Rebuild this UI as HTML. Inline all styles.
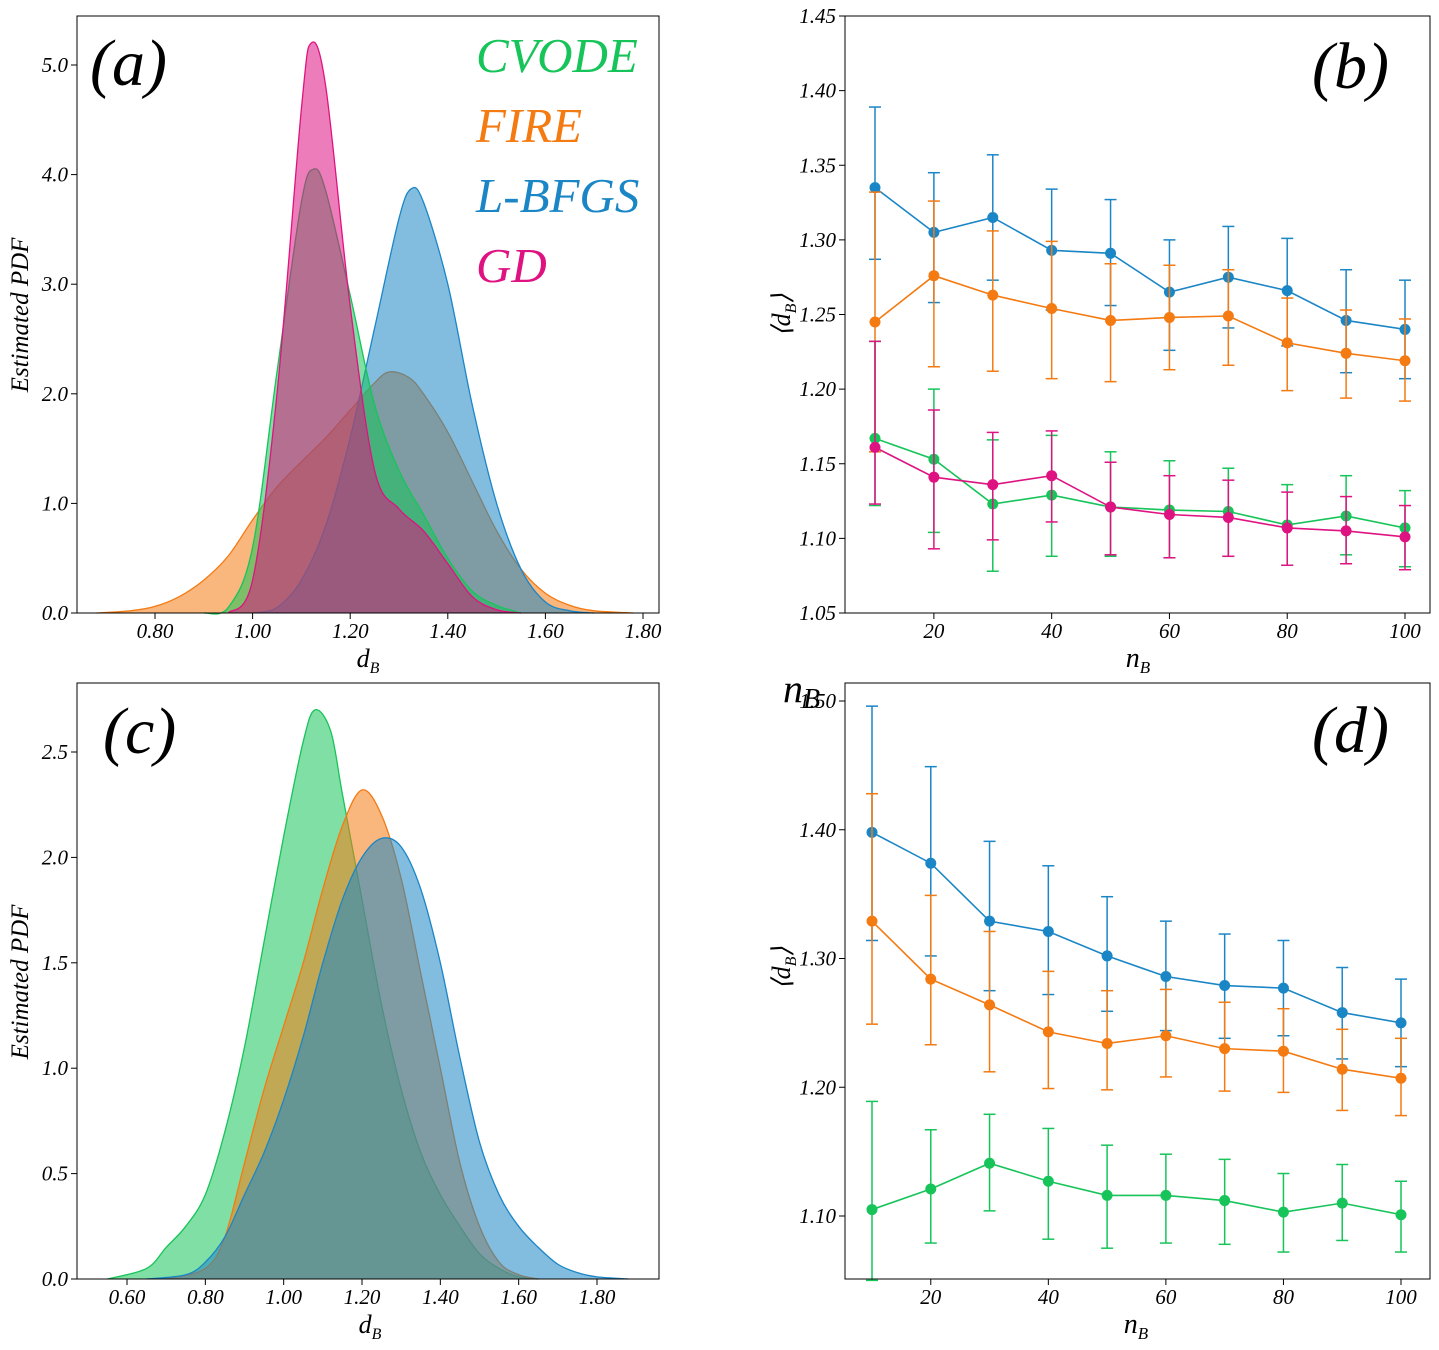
<!DOCTYPE html>
<html><head><meta charset="utf-8">
<style>
body{margin:0;background:#fff;}
svg{display:block;font-family:"Liberation Serif",serif;}
.tk{font-style:italic;}
</style></head>
<body>
<svg id="fig" width="1439" height="1350" viewBox="0 0 1439 1350" xmlns="http://www.w3.org/2000/svg"></svg>
<script>
// ---------- DATA ----------
const aCvodeX=[0.90,0.95,1.00,1.05,1.10,1.125,1.15,1.20,1.25,1.30,1.35,1.40,1.45,1.50,1.55];
const aCvodeY=[0,0.05,0.6,2.2,3.75,4.05,3.85,2.9,1.9,1.3,0.9,0.5,0.2,0.07,0];
const aFireX=[0.68,0.75,0.80,0.85,0.90,0.95,1.00,1.05,1.10,1.15,1.20,1.25,1.28,1.32,1.35,1.40,1.45,1.50,1.55,1.60,1.65,1.70,1.78];
const aFireY=[0,0.02,0.06,0.15,0.3,0.52,0.85,1.15,1.38,1.6,1.85,2.1,2.2,2.15,2.0,1.65,1.2,0.75,0.4,0.18,0.07,0.02,0];
const aLbfgsX=[1.00,1.05,1.10,1.15,1.20,1.25,1.30,1.325,1.35,1.40,1.45,1.50,1.55,1.60,1.65,1.70];
const aLbfgsY=[0,0.05,0.3,0.8,1.6,2.6,3.6,3.87,3.75,3.0,1.9,1.0,0.4,0.1,0.02,0];
const aGdX=[0.95,1.00,1.05,1.10,1.12,1.15,1.20,1.25,1.30,1.35,1.40,1.45,1.50,1.55];
const aGdY=[0,0.3,2.0,4.6,5.2,4.8,2.8,1.3,0.95,0.75,0.45,0.15,0.03,0];

const cCvodeX=[0.55,0.65,0.70,0.75,0.80,0.85,0.90,0.95,1.00,1.05,1.08,1.12,1.15,1.20,1.25,1.30,1.35,1.40,1.45,1.50,1.55,1.60,1.65];
const cCvodeY=[0,0.05,0.15,0.25,0.4,0.7,1.1,1.6,2.1,2.55,2.7,2.6,2.3,1.8,1.3,0.9,0.6,0.4,0.25,0.12,0.05,0.01,0];
const cFireX=[0.70,0.80,0.85,0.90,0.95,1.00,1.05,1.10,1.15,1.20,1.25,1.30,1.35,1.40,1.45,1.50,1.55,1.60,1.65];
const cFireY=[0,0.05,0.2,0.55,0.9,1.2,1.5,1.85,2.15,2.32,2.2,1.9,1.45,1.0,0.55,0.25,0.08,0.02,0];
const cLbfgsX=[0.65,0.75,0.80,0.85,0.90,0.95,1.00,1.05,1.10,1.15,1.20,1.25,1.30,1.35,1.40,1.45,1.50,1.55,1.60,1.65,1.70,1.75,1.80,1.88];
const cLbfgsY=[0,0.02,0.08,0.2,0.4,0.6,0.85,1.15,1.5,1.8,2.0,2.09,2.05,1.85,1.5,1.05,0.65,0.4,0.25,0.15,0.07,0.03,0.01,0];

const nB=[10,20,30,40,50,60,70,80,90,100];
const bBlue=[1.335,1.305,1.315,1.293,1.291,1.265,1.275,1.266,1.246,1.240];
const bBlueLo=[1.287,1.258,1.273,1.253,1.256,1.226,1.241,1.229,1.211,1.207];
const bBlueHi=[1.389,1.345,1.357,1.334,1.327,1.300,1.309,1.301,1.280,1.273];
const bOrange=[1.245,1.276,1.263,1.254,1.246,1.248,1.249,1.231,1.224,1.219];
const bOrangeLo=[1.158,1.215,1.212,1.207,1.205,1.213,1.216,1.199,1.194,1.192];
const bOrangeHi=[1.332,1.326,1.306,1.299,1.284,1.283,1.280,1.261,1.253,1.247];
const bGreen=[1.167,1.153,1.123,1.129,1.121,1.119,1.118,1.109,1.115,1.107];
const bGreenLo=[1.122,1.104,1.078,1.088,1.088,1.087,1.088,1.082,1.089,1.081];
const bGreenHi=[1.232,1.200,1.166,1.169,1.158,1.152,1.147,1.136,1.142,1.132];
const bPink=[1.161,1.141,1.136,1.142,1.121,1.116,1.114,1.107,1.105,1.101];
const bPinkLo=[1.123,1.093,1.099,1.111,1.089,1.087,1.088,1.082,1.083,1.079];
const bPinkHi=[1.232,1.186,1.171,1.172,1.151,1.142,1.139,1.131,1.128,1.122];

const dBlue=[1.398,1.374,1.329,1.321,1.302,1.286,1.279,1.277,1.258,1.250];
const dBlueLo=[1.314,1.302,1.275,1.272,1.259,1.244,1.238,1.240,1.222,1.216];
const dBlueHi=[1.496,1.449,1.391,1.372,1.348,1.329,1.319,1.314,1.293,1.284];
const dOrange=[1.329,1.284,1.264,1.243,1.234,1.240,1.230,1.228,1.214,1.207];
const dOrangeLo=[1.249,1.233,1.212,1.199,1.198,1.208,1.197,1.196,1.182,1.178];
const dOrangeHi=[1.428,1.349,1.321,1.290,1.275,1.276,1.266,1.261,1.245,1.238];
const dGreen=[1.105,1.121,1.141,1.127,1.116,1.116,1.112,1.103,1.110,1.101];
const dGreenLo=[1.050,1.079,1.104,1.082,1.075,1.079,1.078,1.072,1.081,1.072];
const dGreenHi=[1.189,1.167,1.179,1.168,1.155,1.148,1.144,1.133,1.140,1.127];

const tickA_X=[0.80,1.00,1.20,1.40,1.60,1.80];
const tickA_Y=[0.0,1.0,2.0,3.0,4.0,5.0];
const tickC_X=[0.60,0.80,1.00,1.20,1.40,1.60,1.80];
const tickC_Y=[0.0,0.5,1.0,1.5,2.0,2.5];
const tickB_Y=[1.05,1.10,1.15,1.20,1.25,1.30,1.35,1.40,1.45];
const tickD_Y=[1.10,1.20,1.30,1.40,1.50];
const tickN=[20,40,60,80,100];

const GREEN="#17c45a",ORANGE="#f47a12",BLUE="#1b86c6",PINK="#de1381";
// ---------- HELPERS ----------
const svg=document.getElementById('fig');
const NS="http://www.w3.org/2000/svg";
function mk(tag,attrs,parent){const e=document.createElementNS(NS,tag);for(const k in attrs)e.setAttribute(k,attrs[k]);(parent||svg).appendChild(e);return e;}
function lin(d0,d1,r0,r1){return v=>r0+(v-d0)/(d1-d0)*(r1-r0);}
function smooth(pts){let d="M"+pts[0][0]+","+pts[0][1];for(let i=0;i<pts.length-1;i++){const p0=pts[i-1]||pts[i],p1=pts[i],p2=pts[i+1],p3=pts[i+2]||p2;
const c1=[p1[0]+(p2[0]-p0[0])/6,p1[1]+(p2[1]-p0[1])/6],c2=[p2[0]-(p3[0]-p1[0])/6,p2[1]-(p3[1]-p1[1])/6];
d+=" C"+c1[0]+","+c1[1]+" "+c2[0]+","+c2[1]+" "+p2[0]+","+p2[1];}return d;}
function txt(x,y,s,cls,extra){const a=Object.assign({x:x,y:y,class:cls||'tk','font-size':21,fill:'#000'},extra||{});const t=mk('text',a);t.textContent=s;return t;}

function frame(name,x0,y0,x1,y1){const r=mk('rect',{x:x0,y:y0,width:x1-x0,height:y1-y0,fill:'none',stroke:'#000','stroke-width':1});}
function xticks(name,ticks,sx,y,dec){const g=mk('g',{});
ticks.forEach(v=>{mk('line',{x1:sx(v),x2:sx(v),y1:y,y2:y+6,stroke:'#000'},g);const t=txt(sx(v),y+25,v.toFixed(dec),'tk',{'text-anchor':'middle'});g.appendChild(t);});}
function yticks(name,ticks,sy,x,dec){const g=mk('g',{});
ticks.forEach(v=>{mk('line',{x1:x-6,x2:x,y1:sy(v),y2:sy(v),stroke:'#000'},g);const t=txt(x-9,sy(v)+7,v.toFixed(dec),'tk',{'text-anchor':'end'});g.appendChild(t);});}
function kde(name,xs,ys,sx,sy,col){const pts=xs.map((v,i)=>[sx(v),sy(ys[i])]);const d=smooth(pts);
const f=mk('path',{d:d+" L"+pts[pts.length-1][0]+","+sy(0)+" L"+pts[0][0]+","+sy(0)+" Z",fill:col,'fill-opacity':0.55,stroke:'none'});

const l=mk('path',{d:d,fill:'none',stroke:col,'stroke-width':1.3});}
function series(name,xs,m,lo,hi,sx,sy,col){const g=mk('g',{});
mk('path',{d:"M"+xs.map((v,i)=>sx(v)+","+sy(m[i])).join(" L"),fill:'none',stroke:col,'stroke-width':1.6},g);
xs.forEach((v,i)=>{const x=sx(v);mk('line',{x1:x,x2:x,y1:sy(lo[i]),y2:sy(hi[i]),stroke:col,'stroke-width':1.5},g);
mk('line',{x1:x-6,x2:x+6,y1:sy(lo[i]),y2:sy(lo[i]),stroke:col,'stroke-width':1.5},g);
mk('line',{x1:x-6,x2:x+6,y1:sy(hi[i]),y2:sy(hi[i]),stroke:col,'stroke-width':1.5},g);
const c=mk('circle',{cx:x,cy:sy(m[i]),r:5.5,fill:col},g);});}

// ---------- PANEL A ----------
{const sx=lin(0.8,1.8,155,643),sy=lin(0,5,613,65);
kde('a-fire',aFireX,aFireY,sx,sy,ORANGE);kde('a-lbfgs',aLbfgsX,aLbfgsY,sx,sy,BLUE);kde('a-cvode',aCvodeX,aCvodeY,sx,sy,GREEN);kde('a-gd',aGdX,aGdY,sx,sy,PINK);
frame('a',77,16,659,613);xticks('a',tickA_X,sx,613,2);yticks('a',tickA_Y,sy,77,1);
let t=txt(368,667,'','tk',{'font-size':26,'text-anchor':'middle'});t.innerHTML='d<tspan font-size="16" dy="6">B</tspan>';
t=txt(0,0,'Estimated PDF','tk',{'font-size':25,'text-anchor':'middle',transform:'translate(28,315) rotate(-90)'});
t=txt(90,85,'(a)','tk',{'font-size':66});
[['CVODE',GREEN,72],['FIRE',ORANGE,142],['L-BFGS',BLUE,212],['GD',PINK,282]].forEach(l=>{const e=txt(476,l[2],l[0],'tk',{'font-size':49,fill:l[1]});});}
// ---------- PANEL B ----------
{const sx=lin(10,100,875,1405),sy=lin(1.05,1.45,613,16);
series('b-blue',nB,bBlue,bBlueLo,bBlueHi,sx,sy,BLUE);series('b-orange',nB,bOrange,bOrangeLo,bOrangeHi,sx,sy,ORANGE);
series('b-green',nB,bGreen,bGreenLo,bGreenHi,sx,sy,GREEN);series('b-pink',nB,bPink,bPinkLo,bPinkHi,sx,sy,PINK);
frame('b',845,16,1430,613);xticks('b',tickN,sx,613,0);yticks('b',tickB_Y,sy,845,2);
let t=txt(1138,667,'','tk',{'font-size':28,'text-anchor':'middle'});t.innerHTML='n<tspan font-size="17" dy="6">B</tspan>';
t=txt(0,0,'','tk',{'font-size':26,'text-anchor':'middle',transform:'translate(790,315) rotate(-90)'});t.innerHTML='⟨d<tspan font-size="16" dy="6">B</tspan><tspan dy="-6">⟩</tspan>';
t=txt(1312,88,'(b)','tk',{'font-size':66});}
// ---------- PANEL C ----------
{const sx=lin(0.6,1.8,127,597),sy=lin(0,2.5,1279,752);
kde('c-cvode',cCvodeX,cCvodeY,sx,sy,GREEN);kde('c-fire',cFireX,cFireY,sx,sy,ORANGE);kde('c-lbfgs',cLbfgsX,cLbfgsY,sx,sy,BLUE);
frame('c',77,683,659,1279);xticks('c',tickC_X,sx,1279,2);yticks('c',tickC_Y,sy,77,1);
let t=txt(370,1333,'','tk',{'font-size':26,'text-anchor':'middle'});t.innerHTML='d<tspan font-size="16" dy="6">B</tspan>';
t=txt(0,0,'Estimated PDF','tk',{'font-size':25,'text-anchor':'middle',transform:'translate(28,982) rotate(-90)'});
t=txt(103,753,'(c)','tk',{'font-size':66});}
// ---------- PANEL D ----------
{const sx=lin(10,100,872,1401),sy=lin(1.1,1.5,1216,701);
series('d-blue',nB,dBlue,dBlueLo,dBlueHi,sx,sy,BLUE);series('d-orange',nB,dOrange,dOrangeLo,dOrangeHi,sx,sy,ORANGE);series('d-green',nB,dGreen,dGreenLo,dGreenHi,sx,sy,GREEN);
frame('d',845,683,1430,1279);xticks('d',tickN,sx,1279,0);yticks('d',tickD_Y,sy,845,2);
let t=txt(1136,1333,'','tk',{'font-size':28,'text-anchor':'middle'});t.innerHTML='n<tspan font-size="17" dy="6">B</tspan>';
t=txt(0,0,'','tk',{'font-size':26,'text-anchor':'middle',transform:'translate(790,968) rotate(-90)'});t.innerHTML='⟨d<tspan font-size="16" dy="6">B</tspan><tspan dy="-6">⟩</tspan>';
t=txt(783,702,'','tk',{'font-size':40});t.innerHTML='n<tspan font-size="28" dy="6">B</tspan>';
t=txt(1312,752,'(d)','tk',{'font-size':66});}
</script>
</body></html>
